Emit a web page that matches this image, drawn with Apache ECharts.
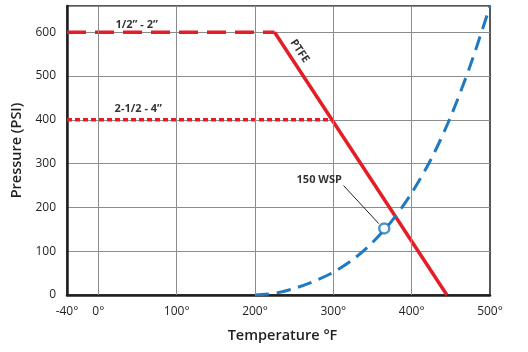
<!DOCTYPE html>
<html>
<head>
<meta charset="utf-8">
<script src="https://cdn.jsdelivr.net/npm/echarts@6/dist/echarts.min.js"></script>
<style>
  html, body { margin: 0; padding: 0; background: #fff; }
  #chart { width: 528px; height: 352px; }
</style>
</head>
<body>
<div id="chart"></div>
<script>
// saturated steam curve (psig vs °F)
const steamTemps = [200, 225, 250, 275, 300, 325, 350, 375, 400, 425, 450, 475, 500]
const steamPsi = [0, 4, 15, 31, 52, 81, 120, 170, 233, 311, 408, 525, 660]

// PTFE seat rating
const ptfeTemps = [225, 445]
const ptfePsi = [600, 0]
const smallValveTemps = [-40, 225]
const smallValvePsi = [600, 600]
const largeValveTemps = [-40, 298]
const largeValvePsi = [400, 400]

// 150 WSP point and its leader line
const wspPoint = [365, 152]
const leaderTemps = [313, 358]
const leaderPsi = [250, 163]

const xTickLabels = [-40, 0, 100, 200, 300, 400, 500]
const xGridValues = [0, 100, 200, 300, 400]

const RED = '#e31e26'
const BLUE = '#2179bf'
const FONT = 'Open Sans'

const zip = (xs, ys) => xs.map((x, i) => [x, ys[i]])

const chart = echarts.init(document.getElementById('chart'))

const option = {
  animation: false,
  textStyle: { fontFamily: FONT },
  grid: {
    left: 67,
    top: 6,
    right: 38,
    bottom: 57,
    show: true,
    borderColor: '#231f20',
    borderWidth: 1.5
  },
  xAxis: {
    type: 'value',
    min: -40,
    max: 500,
    interval: 20,
    name: 'Temperature °F',
    nameLocation: 'middle',
    nameGap: 33,
    nameTextStyle: { fontSize: 14.5, fontWeight: 600, color: '#231f20', fontFamily: FONT, padding: [0, 0, 0, 8] },
    axisLine: { lineStyle: { color: '#231f20', width: 2.5 } },
    axisTick: { show: false },
    splitLine: { show: false },
    axisLabel: {
      color: '#231f20',
      fontSize: 12,
      margin: 11,
      formatter: v => (xTickLabels.includes(v) ? v + '°' : '')
    }
  },
  yAxis: {
    type: 'value',
    min: 0,
    max: 660,
    interval: 100,
    name: 'Pressure (PSI)',
    nameLocation: 'middle',
    nameGap: 37,
    nameTextStyle: { fontSize: 14.5, fontWeight: 600, color: '#231f20', fontFamily: FONT },
    axisLine: { show: true, onZero: false, lineStyle: { color: '#231f20', width: 2.5 } },
    axisTick: { show: false },
    splitLine: { lineStyle: { color: '#8c8c8c', width: 1 } },
    axisLabel: { color: '#231f20', fontSize: 12, margin: 11, showMaxLabel: false }
  },
  series: [
    {
      // vertical grid lines
      type: 'line',
      data: [],
      silent: true,
      z: 1,
      markLine: {
        silent: true,
        symbol: 'none',
        label: { show: false },
        lineStyle: { color: '#8c8c8c', width: 1, type: 'solid' },
        data: xGridValues.map(v => ({ xAxis: v }))
      }
    },
    {
      name: '1/2 - 2',
      type: 'line',
      data: zip(smallValveTemps, smallValvePsi),
      showSymbol: false,
      lineStyle: { color: RED, width: 3.5, type: [19, 9] },
      z: 3
    },
    {
      name: '2-1/2 - 4',
      type: 'line',
      data: zip(largeValveTemps, largeValvePsi),
      showSymbol: false,
      lineStyle: { color: RED, width: 3.5, type: [5, 3] },
      z: 3
    },
    {
      name: 'PTFE',
      type: 'line',
      data: zip(ptfeTemps, ptfePsi),
      showSymbol: false,
      lineStyle: { color: RED, width: 3.5 },
      z: 3
    },
    {
      name: 'Steam',
      type: 'line',
      data: zip(steamTemps, steamPsi),
      smooth: 0.3,
      showSymbol: false,
      lineStyle: { color: BLUE, width: 3, type: [14, 8] },
      z: 4
    },
    {
      name: 'leader',
      type: 'line',
      data: zip(leaderTemps, leaderPsi),
      showSymbol: false,
      lineStyle: { color: '#231f20', width: 1 },
      z: 4
    },
    {
      name: '150 WSP',
      type: 'scatter',
      data: [wspPoint],
      symbol: 'circle',
      symbolSize: 10,
      itemStyle: { color: '#fff', borderColor: BLUE, borderWidth: 2.5 },
      z: 5
    },
    {
      name: 'labels',
      type: 'scatter',
      symbolSize: 0,
      silent: true,
      z: 6,
      label: {
        show: true,
        position: 'inside',
        color: '#000',
        textBorderWidth: 0,
        fontSize: 11,
        fontWeight: 700,
        fontFamily: FONT,
        formatter: p => p.data.text
      },
      data: [
        { value: [49, 618], text: '1/2” - 2”' },
        { value: [51, 426], text: '2-1/2 - 4”' },
        { value: [282, 262], text: '150 WSP' },
        { value: [257, 557], text: 'PTFE', label: { rotate: -56.5 } }
      ]
    }
  ]
}

chart.setOption(option)
</script>
</body>
</html>
